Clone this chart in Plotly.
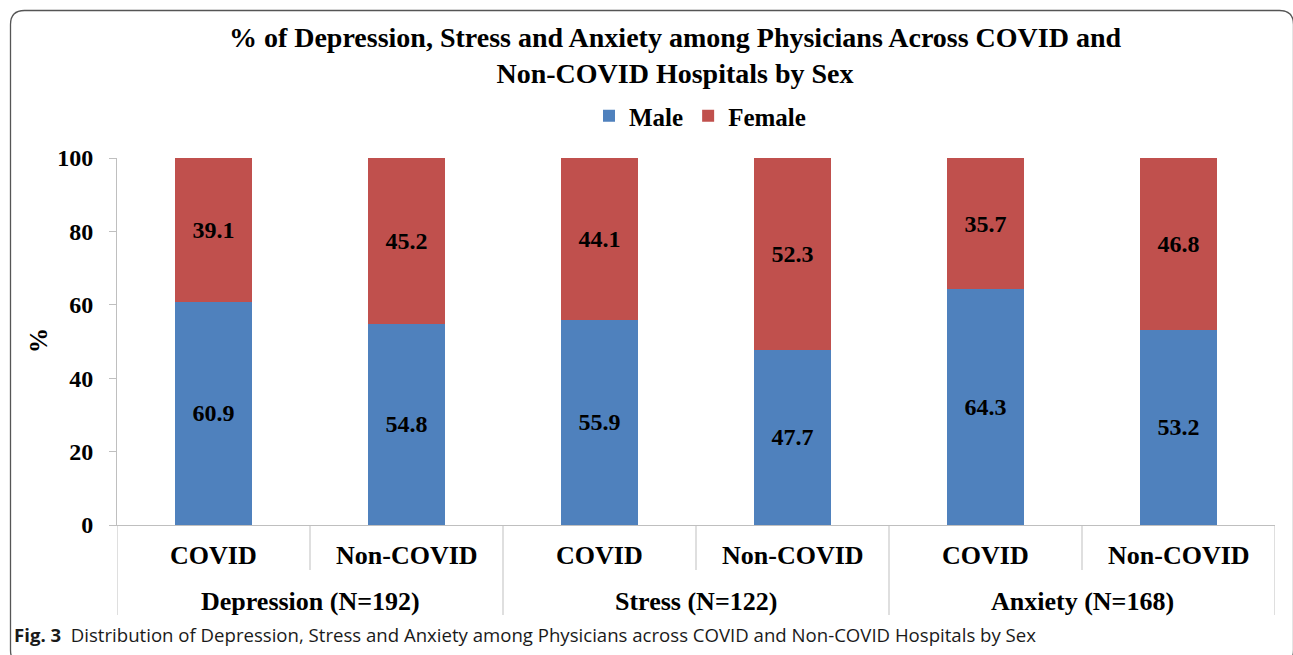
import plotly.graph_objects as go

groups = ["Depression (N=192)", "Stress (N=122)", "Anxiety (N=168)"]
hospitals = ["COVID", "Non-COVID"]
male = [60.9, 54.8, 55.9, 47.7, 64.3, 53.2]
female = [39.1, 45.2, 44.1, 52.3, 35.7, 46.8]
y_ticks = [0, 20, 40, 60, 80, 100]

BLUE = "#4F81BD"
RED = "#C0504D"
SERIF = "Liberation Serif"
GRID = "#BFBFBF"

W, H = 1293, 655
L, R, T, B = 117, 18, 158, 130
PW, PH = W - L - R, H - T - B

def px(x):
    return (x - L) / PW

def py(y):
    return (H - B - y) / PH

keys = [f"{g}|{h}" for g in groups for h in hospitals]

bar_font = dict(family=SERIF, size=24, color="black", weight="bold")

fig = go.Figure()
fig.add_trace(go.Bar(
    x=keys, y=male, name="Male", marker=dict(color=BLUE, line=dict(width=0)),
    text=[f"<b>{v:.1f}</b>" for v in male], textposition="inside", insidetextanchor="middle",
    textfont=bar_font, insidetextfont=bar_font, textangle=0, hoverinfo="skip",
))
fig.add_trace(go.Bar(
    x=keys, y=female, name="Female", marker=dict(color=RED, line=dict(width=0)),
    text=[f"<b>{v:.1f}</b>" for v in female], textposition="inside", insidetextanchor="middle",
    textfont=bar_font, insidetextfont=bar_font, textangle=0, hoverinfo="skip",
))

annotations = []
shapes = []
# sub-category labels
for i, k in enumerate(keys):
    annotations.append(dict(
        x=k, y=py(555), xref="x", yref="paper", text="<b>%s</b>" % hospitals[i % 2],
        showarrow=False, font=dict(family=SERIF, size=26, color="black"),
        xanchor="center", yanchor="middle"))
# group labels
for gi, g in enumerate(groups):
    annotations.append(dict(
        x=gi * 2 + 0.5, y=py(601), xref="x", yref="paper", text="<b>%s</b>" % g,
        showarrow=False, font=dict(family=SERIF, size=26, color="black"),
        xanchor="center", yanchor="middle"))
# dividers
for j in range(len(keys) + 1):
    xb = j - 0.5
    y1 = py(615) if j % 2 == 0 else py(570)
    shapes.append(dict(type="line", xref="x", yref="paper", x0=xb, x1=xb, y0=0, y1=y1,
                       line=dict(color=GRID, width=1)))

# y-axis title
annotations.append(dict(
    x=px(38), y=py(341), xref="paper", yref="paper", text="<b>%</b>", textangle=-90,
    showarrow=False, font=dict(family=SERIF, size=25, color="black"),
    xanchor="center", yanchor="middle"))

# caption
annotations.append(dict(
    x=px(12), y=py(634), xref="paper", yref="paper",
    text="<b>Fig. 3</b>  Distribution of Depression, Stress and Anxiety among Physicians across COVID and Non-COVID Hospitals by Sex",
    showarrow=False, font=dict(family="Open Sans", size=18.6, color="#1a1a1a"),
    xanchor="left", yanchor="middle"))

# rounded frame (extends past the bottom/right edges of the image)
x0, y0, x1, y1, r = 10.5, 10.5, 1293.5, 664, 14
path = (
    f"M {px(x0)},{py(y0 + r)} "
    f"Q {px(x0)},{py(y0)} {px(x0 + r)},{py(y0)} "
    f"L {px(x1 - r)},{py(y0)} "
    f"Q {px(x1)},{py(y0)} {px(x1)},{py(y0 + r)} "
    f"L {px(x1)},{py(y1 - r)} "
    f"Q {px(x1)},{py(y1)} {px(x1 - r)},{py(y1)} "
    f"L {px(x0 + r)},{py(y1)} "
    f"Q {px(x0)},{py(y1)} {px(x0)},{py(y1 - r)} Z"
)
shapes.append(dict(type="path", xref="paper", yref="paper", path=path,
                   line=dict(color="#555555", width=1.3)))

fig.update_layout(
    width=W, height=H,
    margin=dict(l=L, r=R, t=T, b=B, autoexpand=False),
    barmode="stack", bargap=0.606,
    paper_bgcolor="white", plot_bgcolor="white",
    title=dict(
        text="<b>% of Depression, Stress and Anxiety among Physicians Across COVID and<br>Non-COVID Hospitals by Sex</b>",
        x=px(675), xref="paper", xanchor="center",
        y=1 - 46.5 / H, yref="container", yanchor="middle",
        font=dict(family=SERIF, size=28, color="black")),
    legend=dict(orientation="h", x=px(700), xanchor="center", y=py(116), yanchor="middle",
                traceorder="normal",
                font=dict(family=SERIF, size=25, color="black", weight="bold"), itemwidth=30,
                bgcolor="rgba(0,0,0,0)"),
    xaxis=dict(type="category", range=[-0.5, 5.5], showticklabels=False, showline=True,
               linecolor=GRID, linewidth=1, ticks="", showgrid=False, zeroline=False,
               fixedrange=True),
    yaxis=dict(range=[0, 100], tickvals=y_ticks, ticktext=[f"<b>{v}</b>" for v in y_ticks],
               ticks="outside", ticklen=7, tickcolor=GRID, showline=True, linecolor=GRID,
               linewidth=1, showgrid=False, zeroline=False, ticklabelstandoff=11,
               tickfont=dict(family=SERIF, size=24, color="black")),
    annotations=annotations, shapes=shapes,
)

fig.write_html("out.html", post_script="document.body.style.margin='0';",
               config={"displayModeBar": False})
